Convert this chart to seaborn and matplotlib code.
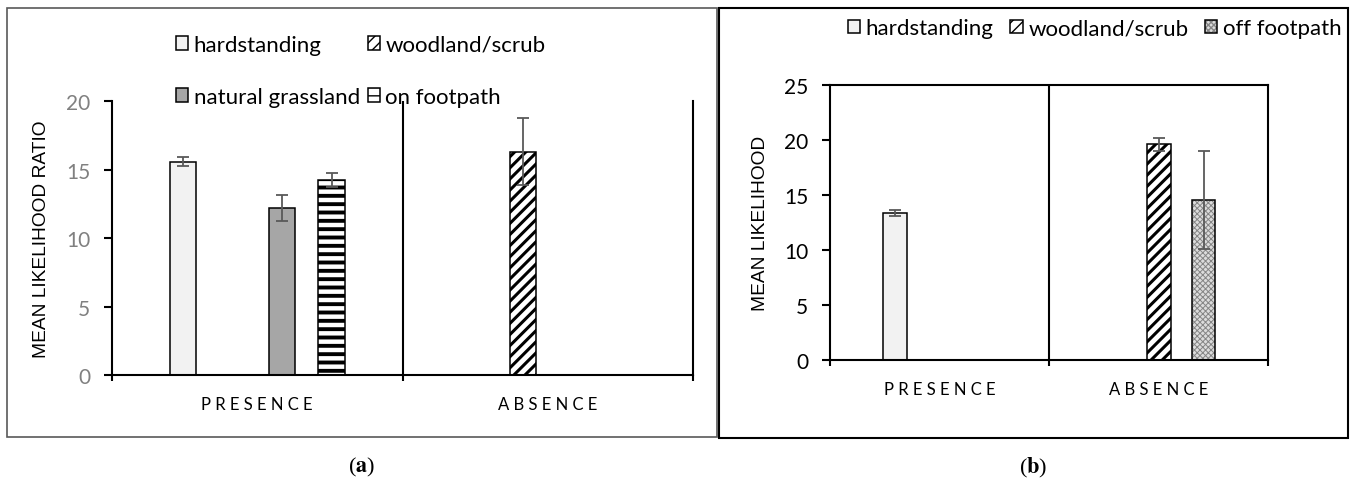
import pandas as pd
import matplotlib
matplotlib.use("Agg")
import matplotlib.pyplot as plt
import matplotlib.patches as mpatches
from matplotlib.colors import to_rgba
import seaborn as sns

categories = ["PRESENCE", "ABSENCE"]

# panel (a): mean likelihood ratio
a_series = ["hardstanding", "woodland/scrub", "natural grassland", "on footpath"]
a_category = ["PRESENCE", "PRESENCE", "PRESENCE", "ABSENCE"]
a_surface = ["hardstanding", "natural grassland", "on footpath", "woodland/scrub"]
a_mean = [15.57, 12.22, 14.24, 16.30]
a_err = [0.31, 0.95, 0.50, 2.46]

# panel (b): mean likelihood
b_series = ["hardstanding", "woodland/scrub", "off footpath"]
b_category = ["PRESENCE", "ABSENCE", "ABSENCE"]
b_surface = ["hardstanding", "woodland/scrub", "off footpath"]
b_mean = [13.33, 19.60, 14.55]
b_err = [0.27, 0.60, 4.45]

# fill / hatch per surface type
styles = {
    "hardstanding": dict(face="#f2f2f2", hatch=None),
    "woodland/scrub": dict(face="white", hatch="///", hcolor="black", hlw=2.2),
    "natural grassland": dict(face="#a6a6a6", hatch=None),
    "on footpath": dict(face="white", hatch="--", hcolor="black", hlw=2.8),
    "off footpath": dict(face="#dcdcdc", hatch="xxxxxx", hcolor="#858585", hlw=0.7),
}

plt.rcParams['font.family'] = ['Lato', 'DejaVu Sans']
plt.rcParams['mathtext.fontset'] = 'stix'


def style_patch(p, st):
    if not st.get("hatch"):
        return
    p.set_hatch(st["hatch"])
    if hasattr(p, "set_hatch_linewidth"):
        p.set_hatch_linewidth(st["hlw"])
    if hasattr(p, "set_hatchcolor"):
        p.set_hatchcolor(st["hcolor"])
    else:
        p._hatch_color = to_rgba(st["hcolor"])


def spaced(s):
    return " ".join(s)


def draw_panel(ax, cat, surf, mean, err, series, width, gap):
    df = pd.DataFrame({"category": cat, "surface": surf, "mean": mean})
    sns.barplot(data=df, x="category", y="mean", hue="surface",
                order=categories, hue_order=series,
                palette={s: styles[s]["face"] for s in series}, saturation=1,
                width=width, gap=gap, errorbar=None,
                edgecolor="black", linewidth=1.1, legend=False, ax=ax)
    err_lookup = {(c, s): e for c, s, e in zip(cat, surf, err)}
    for s, cont in zip(series, ax.containers):
        for bar in cont:
            style_patch(bar, styles[s])
            xc = bar.get_x() + bar.get_width() / 2
            c = categories[int(round(xc))]
            ax.errorbar(xc, bar.get_height(), yerr=err_lookup[(c, s)],
                        fmt="none", ecolor="#595959", elinewidth=1.3,
                        capsize=4.3, capthick=1.3, zorder=5)


def style_axes(ax, ylim, yticks, tickcolor, top):
    ax.set_xlim(-0.5, 1.5)
    ax.set_ylim(*ylim)
    ax.set_yticks(yticks)
    ax.set_xticks([0, 1], [spaced(c) for c in categories])
    ax.set_xticks([-0.5, 0.5, 1.5], minor=True)
    ax.tick_params(axis="x", which="major", length=0, pad=15, labelsize=12)
    ax.tick_params(axis="x", which="minor", length=4.5, width=1.5, direction="out")
    ax.tick_params(axis="y", length=5.8, width=1.5, pad=10, labelsize=15,
                   labelcolor=tickcolor)
    ax.axvline(0.5, color="black", lw=1.5, zorder=1)
    for sp in ax.spines.values():
        sp.set_linewidth(1.5)
    ax.spines["top"].set_visible(top)
    ax.set_xlabel("")


def legend_handles(series):
    hs = []
    for s in series:
        st = styles[s]
        h = mpatches.Patch(facecolor=st["face"], edgecolor="black", linewidth=1.1, label=s)
        style_patch(h, st)
        hs.append(h)
    return hs


fig = plt.figure(figsize=(13.53, 4.85), dpi=100)
ax_a = fig.add_axes([0.0828, 0.2247, 0.4294, 0.5649])
ax_b = fig.add_axes([0.6135, 0.2563, 0.3237, 0.5660])

draw_panel(ax_a, a_category, a_surface, a_mean, a_err, a_series, 0.683, 0.466)
style_axes(ax_a, (0, 20), [0, 5, 10, 15, 20], "#808080", top=False)
ax_a.set_ylabel("MEAN LIKELIHOOD RATIO", fontsize=13.8, family="Liberation Sans")
ax_a.yaxis.set_label_coords(-0.107, 0.5)

draw_panel(ax_b, b_category, b_surface, b_mean, b_err, b_series, 0.616, 0.467)
style_axes(ax_b, (0, 25), [0, 5, 10, 15, 20, 25], "black", top=True)
ax_b.set_ylabel("MEAN LIKELIHOOD", fontsize=13.8, family="Liberation Sans")
ax_b.yaxis.set_label_coords(-0.14, 0.5)

# legends
ha = legend_handles(a_series)
order = [0, 2, 1, 3]
fig.legend([ha[i] for i in order], [a_series[i] for i in order], ncol=2,
           loc="center left", bbox_to_anchor=(0.130, 0.852), frameon=False,
           fontsize=16, handlelength=0.55, handleheight=0.55, handletextpad=0.25,
           columnspacing=0.35, labelspacing=1.45, borderpad=0, borderaxespad=0)
hb = legend_handles(b_series)
fig.legend(hb, b_series, ncol=3, loc="center left", bbox_to_anchor=(0.6268, 0.940),
           frameon=False, fontsize=16, handlelength=0.55, handleheight=0.55,
           handletextpad=0.25, columnspacing=0.75, borderpad=0, borderaxespad=0)

# panel frames
W, H = 1353, 485
fig.add_artist(mpatches.Rectangle((7 / W, 1 - 438 / H), 710 / W, 429 / H, fill=False,
                                  edgecolor="#595959", lw=1.2, transform=fig.transFigure))
fig.add_artist(mpatches.Rectangle((719 / W, 1 - 439 / H), 629 / W, 430 / H, fill=False,
                                  edgecolor="black", lw=1.5, transform=fig.transFigure))

fig.text(362 / W, 1 - 467 / H, r"($\mathbf{a}$)", ha="center", va="center",
         fontsize=16, family="Liberation Serif")
fig.text(1033 / W, 1 - 468 / H, r"($\mathbf{b}$)", ha="center", va="center",
         fontsize=16, family="Liberation Serif")

fig.savefig("out.png", dpi=100)
